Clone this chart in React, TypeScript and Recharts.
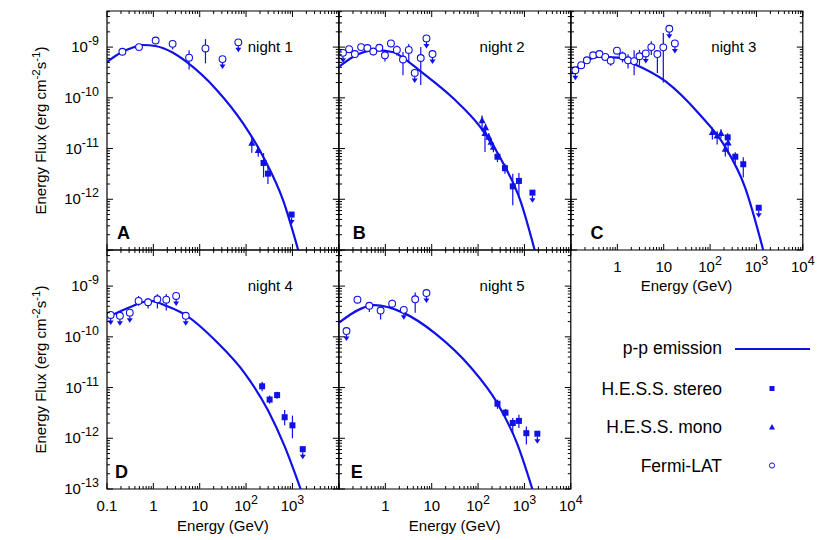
import React from 'react';
import { ComposedChart, Line, Scatter, ErrorBar, XAxis, YAxis, ReferenceArea } from 'recharts';

const BLUE = '#1010e8';
const FONT = '"Liberation Sans", Arial, Helvetica, sans-serif';

// p-p emission model per night: [energy GeV, energy flux erg cm-2 s-1]
const curveA = [[0.1, 5.1e-10], [0.215, 8.1e-10], [0.35, 9.7e-10], [0.6, 1.1e-9], [1.1, 1.05e-9], [2.6, 7.8e-10], [5.2, 5.1e-10], [23, 1.45e-10], [87, 3.1e-11], [234, 6.9e-12], [630, 9.5e-13], [1330, 1e-13]];
const curveB = [[0.1, 4.1e-10], [0.2, 6.4e-10], [0.58, 8.7e-10], [1.5, 7.9e-10], [2.5, 6.0e-10], [5.5, 3.45e-10], [29.5, 9.7e-11], [110, 2.7e-11], [350, 5.1e-12], [810, 9.6e-13], [1660, 1e-13]];
const curveC = [[0.1, 3.2e-10], [0.2, 5.1e-10], [0.37, 6.4e-10], [1, 6.2e-10], [2.1, 4.8e-10], [11, 2.1e-10], [57, 4.9e-11], [213, 1.07e-11], [570, 1.7e-12], [1400, 1e-13]];
const curveD = [[0.1, 2.4e-10], [0.3, 3.8e-10], [0.86, 5.1e-10], [2, 4.0e-10], [4.6, 2.8e-10], [24, 7.7e-11], [92, 1.95e-11], [295, 3.6e-12], [680, 6.9e-13], [1500, 1e-13]];
const curveE = [[0.1, 1.9e-10], [0.3, 3.6e-10], [0.58, 4.2e-10], [2.4, 3.0e-10], [12.6, 1.12e-10], [67, 2.6e-11], [257, 5e-12], [690, 8e-13], [1480, 1e-13]];

// measured points: [energy, flux, flux low, flux high]
const fermiA = [[0.215, 8.1e-10, 7.4e-10, 8.9e-10], [0.49, 1.0e-9, 0.93e-9, 1.08e-9], [1.12, 1.35e-9, 1.25e-9, 1.45e-9], [2.6, 1.16e-9, 0.9e-9, 1.37e-9], [5.9, 6.2e-10, 3.6e-10, 8.7e-10], [13.3, 9.4e-10, 4.8e-10, 1.44e-9]];
const fermiB = [[0.165, 9.1e-10, 8.0e-10, 1.03e-9], [0.22, 7.3e-10, 6.4e-10, 8.2e-10], [0.3, 1.0e-9, 0.9e-9, 1.1e-9], [0.41, 9.6e-10, 8.6e-10, 1.06e-9], [0.55, 8.2e-10, 6.9e-10, 9.5e-10], [0.74, 9.7e-10, 8.4e-10, 1.1e-9], [0.98, 6.9e-10, 5.2e-10, 8.5e-10], [1.32, 1.18e-9, 1.0e-9, 1.35e-9], [1.77, 8.8e-10, 6.8e-10, 1.08e-9], [2.4, 5.7e-10, 2.8e-10, 8.0e-10], [3.2, 8.8e-10, 5.2e-10, 1.15e-9], [5.8, 6.1e-10, 1.8e-10, 1.0e-9]];
const fermiC = [[0.166, 4.4e-10, 3.8e-10, 5.1e-10], [0.22, 5.5e-10, 4.7e-10, 6.3e-10], [0.3, 6.9e-10, 6.0e-10, 7.8e-10], [0.41, 7.3e-10, 6.4e-10, 8.2e-10], [0.55, 6.4e-10, 5.5e-10, 7.4e-10], [0.72, 5.4e-10, 4.3e-10, 6.5e-10], [0.98, 8.5e-10, 7.3e-10, 9.8e-10], [1.29, 6.6e-10, 5.0e-10, 8.2e-10], [1.7, 5.5e-10, 3.8e-10, 7.2e-10], [2.3, 5.3e-10, 2.8e-10, 8.7e-10], [3.0, 6.6e-10, 4.4e-10, 8.8e-10], [5.4, 1.0e-9, 7.0e-10, 1.3e-9], [7.3, 7.3e-10, 3.1e-10, 8.7e-10], [9.8, 9.9e-10, 2.0e-10, 1.9e-9]];
const fermiD = [[0.48, 5.1e-10, 4.1e-10, 6.4e-10], [0.77, 4.8e-10, 3.6e-10, 5.8e-10], [1.22, 5.5e-10, 3.6e-10, 6.9e-10], [1.9, 5.4e-10, 3.3e-10, 7.0e-10]];
const fermiE = [[0.25, 5.4e-10, 4.6e-10, 6.2e-10], [0.45, 4.1e-10, 3.1e-10, 4.8e-10], [0.79, 3.3e-10, 2.2e-10, 3.8e-10], [1.4, 4.5e-10, 3.5e-10, 5.4e-10], [4.4, 5.5e-10, 3.0e-10, 7.5e-10]];

const monoA = [[133, 1.29e-11, 8.3e-12, 1.7e-11], [183, 9.3e-12, 6.9e-12, 1.12e-11]];
const monoB = [[122, 3.6e-11, 2.2e-11, 4.5e-11], [141, 2.0e-11, 8.6e-12, 2.7e-11], [145, 2.6e-11, 2.0e-11, 3.1e-11], [170, 1.7e-11, 1.4e-11, 2.0e-11], [190, 1.35e-11, 1.1e-11, 1.6e-11], [214, 1.07e-11, 8.5e-12, 1.3e-11]];
const monoC = [[112, 2.1e-11, 1.5e-11, 2.6e-11], [142, 1.8e-11, 1.2e-11, 2.2e-11], [172, 2.0e-11, 1.6e-11, 2.4e-11], [213, 9.8e-12, 7.0e-12, 1.3e-11], [245, 1.3e-11, 8.0e-12, 1.6e-11]];

const stereoA = [[238, 5.2e-12, 2.7e-12, 8.1e-12], [296, 3.2e-12, 2.0e-12, 4.5e-12]];
const stereoB = [[262, 6.9e-12, 5.4e-12, 8.5e-12], [380, 4.1e-12, 3.2e-12, 5.0e-12], [560, 1.8e-12, 7.6e-13, 3.2e-12], [760, 2.3e-12, 1.1e-12, 3.3e-12]];
const stereoC = [[240, 1.66e-11, 1.3e-11, 2.0e-11], [350, 6.9e-12, 5.0e-12, 8.5e-12], [520, 4.9e-12, 2.7e-12, 6.7e-12]];
const stereoD = [[222, 1.06e-11, 8.5e-12, 1.3e-11], [322, 5.8e-12, 4.8e-12, 7.0e-12], [467, 7.1e-12, 6.0e-12, 8.3e-12], [680, 2.6e-12, 1.8e-12, 3.6e-12], [1000, 1.8e-12, 1.0e-12, 2.8e-12]];
const stereoE = [[262, 4.8e-12, 3.8e-12, 5.8e-12], [390, 3.2e-12, 2.7e-12, 3.8e-12], [560, 2.0e-12, 1.2e-12, 2.5e-12], [760, 2.2e-12, 1.6e-12, 2.9e-12], [1100, 1.26e-12, 7.5e-13, 1.7e-12]];

// upper limits: [energy, flux]
const fermiUlA = [[31, 5.8e-10], [68, 1.24e-9]];
const fermiUlB = [[0.122, 7.7e-10], [4.3, 3.1e-10], [7.7, 1.48e-9], [10.4, 7.3e-10]];
const fermiUlC = [[0.124, 3.5e-10], [4.1, 7.5e-10], [13.2, 2.3e-9], [17.4, 1.18e-9]];
const fermiUlD = [[0.12, 2.7e-10], [0.19, 2.6e-10], [0.31, 3.0e-10], [3.1, 6.4e-10], [5.0, 2.6e-10]];
const fermiUlE = [[0.145, 1.3e-10], [2.5, 3.4e-10], [7.7, 7.3e-10]];

const stereoUlA = [[960, 5.0e-13]];
const stereoUlB = [[1490, 1.35e-12]];
const stereoUlC = [[1120, 6.8e-13]];
const stereoUlD = [[1670, 6.1e-13]];
const stereoUlE = [[1900, 1.23e-12]];

const X_DOMAIN = [0.1, 10000];
const Y_DOMAIN = [1e-13, 5.15e-9];
const X_MAJORS = [0.1, 1, 10, 100, 1000, 10000];
const Y_MAJORS = [1e-13, 1e-12, 1e-11, 1e-10, 1e-9];

// ticks incl. minor ones (2..9 per decade)
const xTicks: number[] = [];
X_MAJORS.forEach((d) => {
  for (let m = 1; m <= 9; m++) if (d * m <= X_DOMAIN[1]) xTicks.push(d * m);
});
const yTicks: number[] = [];
Y_MAJORS.forEach((d) => {
  for (let m = 1; m <= 9; m++) if (d * m <= Y_DOMAIN[1]) yTicks.push(d * m);
});

const PLOT_W = 231.8;
const PLOT_H = 239;
const COL_X = [107, 338.8, 570.6];
const ROW_Y = [11, 250];
const Y_AXIS_W = 62;
const X_AXIS_H = 48;
const PAD = 6;
const PAD_R = 26;
const SUP = 12.5;

const toPts = (rows: number[][]) =>
  rows.map(([e, f, lo, hi]) => ({ e, f, err: lo != null ? [f - lo, hi - f] : [0, 0] }));

const isMajor = (v: number) => Math.abs(Math.log10(v) - Math.round(Math.log10(v))) < 1e-6;
const near = (list: number[], v: number) => list.some((l) => Math.abs(l - v) / l < 1e-6);

const makeXTick = (labels: number[]) => (props: any) => {
  const { x, y, payload } = props;
  const v = payload.value;
  const len = isMajor(v) ? 6 : 3;
  const top = y - PLOT_H;
  const n = Math.round(Math.log10(v));
  let label: React.ReactNode = null;
  if (near(labels, v)) {
    label = (
      <text x={x} y={y + 22} textAnchor="middle" fontSize={15} fill="#000" fontFamily={FONT}>
        {n <= 1 ? String(v) : '10'}
        {n > 1 && <tspan dy={-7} fontSize={SUP}>{n}</tspan>}
      </text>
    );
  }
  return (
    <g>
      <line x1={x} x2={x} y1={y} y2={y - len} stroke="#000" strokeWidth={1} />
      <line x1={x} x2={x} y1={top} y2={top + len} stroke="#000" strokeWidth={1} />
      {label}
    </g>
  );
};

const makeYTick = (labels: number[]) => (props: any) => {
  const { x, y, payload } = props;
  const v = payload.value;
  const len = isMajor(v) ? 6 : 3;
  const right = x + PLOT_W;
  const n = Math.round(Math.log10(v));
  return (
    <g>
      <line x1={x} x2={x + len} y1={y} y2={y} stroke="#000" strokeWidth={1} />
      <line x1={right} x2={right - len} y1={y} y2={y} stroke="#000" strokeWidth={1} />
      {near(labels, v) && (
        <text x={x - 8} y={y + 5} textAnchor="end" fontSize={15} fill="#000" fontFamily={FONT}>
          10<tspan dy={-7} fontSize={SUP}>{n}</tspan>
        </text>
      )}
    </g>
  );
};

const OpenCircle = (p: any) => (
  <circle cx={p.cx} cy={p.cy} r={3.4} fill="#fff" stroke={BLUE} strokeWidth={1.1} />
);
const Arrow = ({ cx, cy, from }: { cx: number; cy: number; from: number }) => (
  <g>
    <line x1={cx} x2={cx} y1={cy + from} y2={cy + 6} stroke={BLUE} strokeWidth={1.2} />
    <polygon points={`${cx - 3},${cy + 5.5} ${cx + 3},${cy + 5.5} ${cx},${cy + 10}`} fill={BLUE} />
  </g>
);
const CircleUL = (p: any) => (
  <g>
    <Arrow cx={p.cx} cy={p.cy} from={3.4} />
    <circle cx={p.cx} cy={p.cy} r={3.4} fill="#fff" stroke={BLUE} strokeWidth={1.1} />
  </g>
);
const Square = (p: any) => <rect x={p.cx - 3} y={p.cy - 3} width={6} height={6} fill={BLUE} />;
const SquareUL = (p: any) => (
  <g>
    <rect x={p.cx - 3} y={p.cy - 3} width={6} height={6} fill={BLUE} />
    <Arrow cx={p.cx} cy={p.cy} from={3} />
  </g>
);
const Triangle = (p: any) => (
  <polygon points={`${p.cx},${p.cy - 3.8} ${p.cx - 3.5},${p.cy + 2.8} ${p.cx + 3.5},${p.cy + 2.8}`} fill={BLUE} />
);

const panels = [
  { id: 'A', night: 'night 1', col: 0, row: 0, curve: curveA, fermi: fermiA, fermiUl: fermiUlA, mono: monoA, stereo: stereoA, stereoUl: stereoUlA, xLabels: [] as number[], yLabels: [1e-9, 1e-10, 1e-11, 1e-12], letterDx: 10 },
  { id: 'B', night: 'night 2', col: 1, row: 0, curve: curveB, fermi: fermiB, fermiUl: fermiUlB, mono: monoB, stereo: stereoB, stereoUl: stereoUlB, xLabels: [] as number[], yLabels: [] as number[], letterDx: 14 },
  { id: 'C', night: 'night 3', col: 2, row: 0, curve: curveC, fermi: fermiC, fermiUl: fermiUlC, mono: monoC, stereo: stereoC, stereoUl: stereoUlC, xLabels: [1, 10, 100, 1000, 10000], yLabels: [] as number[], letterDx: 20 },
  { id: 'D', night: 'night 4', col: 0, row: 1, curve: curveD, fermi: fermiD, fermiUl: fermiUlD, mono: [] as number[][], stereo: stereoD, stereoUl: stereoUlD, xLabels: [0.1, 1, 10, 100, 1000], yLabels: [1e-9, 1e-10, 1e-11, 1e-12, 1e-13], letterDx: 8 },
  { id: 'E', night: 'night 5', col: 1, row: 1, curve: curveE, fermi: fermiE, fermiUl: fermiUlE, mono: [] as number[][], stereo: stereoE, stereoUl: stereoUlE, xLabels: [1, 10, 100, 1000, 10000], yLabels: [] as number[], letterDx: 12 },
];

const Panel = ({ p }: { p: (typeof panels)[number] }) => {
  const left = COL_X[p.col];
  const top = ROW_Y[p.row];
  const curve = p.curve.map(([e, f]) => ({ e, f }));
  return (
    <div style={{ position: 'absolute', left: left - Y_AXIS_W, top: top - PAD }}>
      <ComposedChart
        width={Y_AXIS_W + PLOT_W + PAD_R}
        height={PAD + PLOT_H + X_AXIS_H}
        margin={{ top: PAD, right: PAD_R, bottom: 0, left: 0 }}
      >
        <XAxis
          dataKey="e"
          type="number"
          scale="log"
          domain={X_DOMAIN}
          allowDataOverflow
          ticks={xTicks}
          interval={0}
          tickSize={0}
          tickMargin={0}
          tickLine={false}
          axisLine={false}
          height={X_AXIS_H}
          tick={makeXTick(p.xLabels)}
        />
        <YAxis
          dataKey="f"
          type="number"
          scale="log"
          domain={Y_DOMAIN}
          allowDataOverflow
          ticks={yTicks}
          interval={0}
          tickSize={0}
          tickMargin={0}
          tickLine={false}
          axisLine={false}
          width={Y_AXIS_W}
          tick={makeYTick(p.yLabels)}
        />
        <ReferenceArea x1={X_DOMAIN[0]} x2={X_DOMAIN[1]} y1={Y_DOMAIN[0]} y2={Y_DOMAIN[1]} fill="none" fillOpacity={0} stroke="#000" strokeWidth={1.2} />
        <Line data={curve} dataKey="f" type="monotone" stroke={BLUE} strokeWidth={2.2} dot={false} isAnimationActive={false} />
        <Scatter data={toPts(p.fermi)} dataKey="f" shape={OpenCircle} isAnimationActive={false}>
          <ErrorBar dataKey="err" direction="y" width={0} stroke={BLUE} strokeWidth={1.2} isAnimationActive={false} />
        </Scatter>
        <Scatter data={toPts(p.fermiUl)} dataKey="f" shape={CircleUL} isAnimationActive={false} />
        <Scatter data={toPts(p.mono)} dataKey="f" shape={Triangle} isAnimationActive={false}>
          <ErrorBar dataKey="err" direction="y" width={0} stroke={BLUE} strokeWidth={1.2} isAnimationActive={false} />
        </Scatter>
        <Scatter data={toPts(p.stereo)} dataKey="f" shape={Square} isAnimationActive={false}>
          <ErrorBar dataKey="err" direction="y" width={0} stroke={BLUE} strokeWidth={1.2} isAnimationActive={false} />
        </Scatter>
        <Scatter data={toPts(p.stereoUl)} dataKey="f" shape={SquareUL} isAnimationActive={false} />
      </ComposedChart>
    </div>
  );
};

const FluxTitle = ({ cy }: { cy: number }) => (
  <text transform={`translate(46, ${cy}) rotate(-90)`} textAnchor="middle" fontSize={15} fill="#000">
    Energy Flux (erg cm<tspan dy={-6} fontSize={11.5}>-2</tspan>
    <tspan dy={6}>s</tspan>
    <tspan dy={-6} fontSize={11.5}>-1</tspan>
    <tspan dy={6}>)</tspan>
  </text>
);

export default function App() {
  return (
    <div style={{ position: 'absolute', left: 0, top: 0, width: 821, height: 540, background: '#fff', fontFamily: FONT }}>
      {panels.map((p) => (
        <Panel key={p.id} p={p} />
      ))}
      <svg width={821} height={540} style={{ position: 'absolute', left: 0, top: 0, pointerEvents: 'none' }} fontFamily={FONT}>
        <FluxTitle cy={ROW_Y[0] + PLOT_H / 2} />
        <FluxTitle cy={ROW_Y[1] + PLOT_H / 2} />
        <text x={COL_X[2] + PLOT_W / 2} y={ROW_Y[0] + PLOT_H + 41} textAnchor="middle" fontSize={15}>Energy (GeV)</text>
        <text x={COL_X[0] + PLOT_W / 2} y={ROW_Y[1] + PLOT_H + 42} textAnchor="middle" fontSize={15}>Energy (GeV)</text>
        <text x={COL_X[1] + PLOT_W / 2} y={ROW_Y[1] + PLOT_H + 42} textAnchor="middle" fontSize={15}>Energy (GeV)</text>
        {panels.map((p) => (
          <g key={p.id}>
            <text x={COL_X[p.col] + PLOT_W - 46} y={ROW_Y[p.row] + 41} textAnchor="end" fontSize={15}>{p.night}</text>
            <text x={COL_X[p.col] + p.letterDx} y={ROW_Y[p.row] + PLOT_H - 11} fontSize={18} fontWeight="bold">{p.id}</text>
          </g>
        ))}
        <g fontSize={17.5}>
          <text x={722} y={354} textAnchor="end">p-p emission</text>
          <line x1={735} x2={810} y1={349} y2={349} stroke={BLUE} strokeWidth={2} />
          <text x={722} y={395} textAnchor="end">H.E.S.S. stereo</text>
          <rect x={769.5} y={386} width={5} height={5} fill={BLUE} />
          <text x={722} y={433} textAnchor="end">H.E.S.S. mono</text>
          <polygon points="772,424 769,429.5 775,429.5" fill={BLUE} />
          <text x={722} y={472} textAnchor="end">Fermi-LAT</text>
          <circle cx={772} cy={465.5} r={2.6} fill="#fff" stroke={BLUE} strokeWidth={1} />
        </g>
      </svg>
    </div>
  );
}
